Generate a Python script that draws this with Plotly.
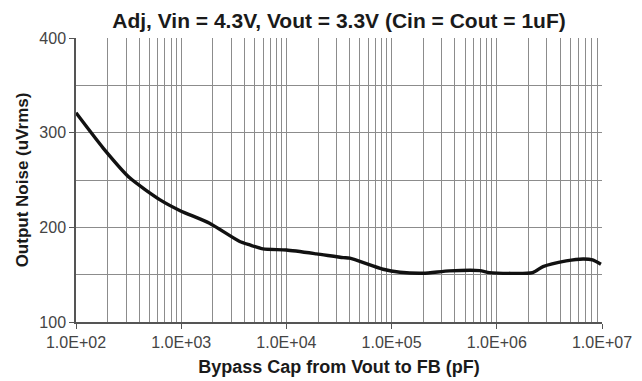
import plotly.graph_objects as go

# Bypass capacitance (pF) vs output noise (uVrms)
cap_pf = [100, 182, 326, 630, 977, 1860, 3600, 4490, 6000, 10000, 19300, 34700,
          40000, 83000, 120000, 200000, 355000, 690000, 850000, 2190000, 2750000,
          4570000, 6610000, 8130000, 9770000]
noise_uv = [321, 283.5, 252, 229, 217.6, 204.3, 185, 181.4, 177.2, 176, 172, 168,
            167.4, 155.7, 152.6, 151.5, 154, 154.3, 152.2, 152.2, 158.5, 164.5,
            166.6, 165.6, 161]

decades = [1e2, 1e3, 1e4, 1e5, 1e6, 1e7]
decade_labels = ["1.0E+02", "1.0E+03", "1.0E+04", "1.0E+05", "1.0E+06", "1.0E+07"]
minor_vals = [m * d for d in decades[:-1] for m in range(2, 10)]
y_ticks = [100, 200, 300, 400]

grid = "#8c8c8c"
fig = go.Figure(go.Scatter(
    x=cap_pf, y=noise_uv, mode="lines",
    line=dict(color="#111111", width=3.4, shape="spline", smoothing=0.6),
    hoverinfo="skip",
))

fig.update_layout(
    width=642, height=381,
    margin=dict(l=76, r=40, t=38, b=59),
    paper_bgcolor="white", plot_bgcolor="white",
    showlegend=False,
    font=dict(family="Liberation Sans, Arial, sans-serif", color="#444444", size=16),
    title=dict(
        text="<b>Adj, Vin = 4.3V, Vout = 3.3V (Cin = Cout = 1uF)</b>",
        x=0.5, xref="paper", y=1 - 21 / 381, yref="container", yanchor="middle",
        font=dict(size=21, color="#1a1a1a"),
    ),
    xaxis=dict(
        type="log", range=[2, 7], automargin=False,
        tickvals=decades, ticktext=decade_labels,
        ticks="outside", ticklen=5, tickcolor="#555",
        tickfont=dict(size=16, color="#444444"),
        showgrid=True, gridcolor=grid, gridwidth=1,
        minor=dict(tickvals=minor_vals, showgrid=True, gridcolor=grid, gridwidth=1, ticks=""),
        showline=True, linecolor="#555", linewidth=1.5,
        title=dict(text="<b>Bypass Cap from Vout to FB (pF)</b>",
                   font=dict(size=18, color="#1a1a1a"), standoff=10),
        zeroline=False,
    ),
    yaxis=dict(
        range=[100, 400], tickvals=y_ticks, automargin=False,
        ticks="outside", ticklen=5, tickcolor="#555",
        tickfont=dict(size=16, color="#444444"),
        showgrid=True, gridcolor=grid, gridwidth=1,
        minor=dict(dtick=50, showgrid=True, gridcolor=grid, gridwidth=1, ticks=""),
        showline=True, linecolor="#555", linewidth=1.5,
        title=dict(text="<b>Output Noise (uVrms)</b>",
                   font=dict(size=17, color="#1a1a1a"), standoff=6),
        zeroline=False,
    ),
)

fig.write_html("out.html")
